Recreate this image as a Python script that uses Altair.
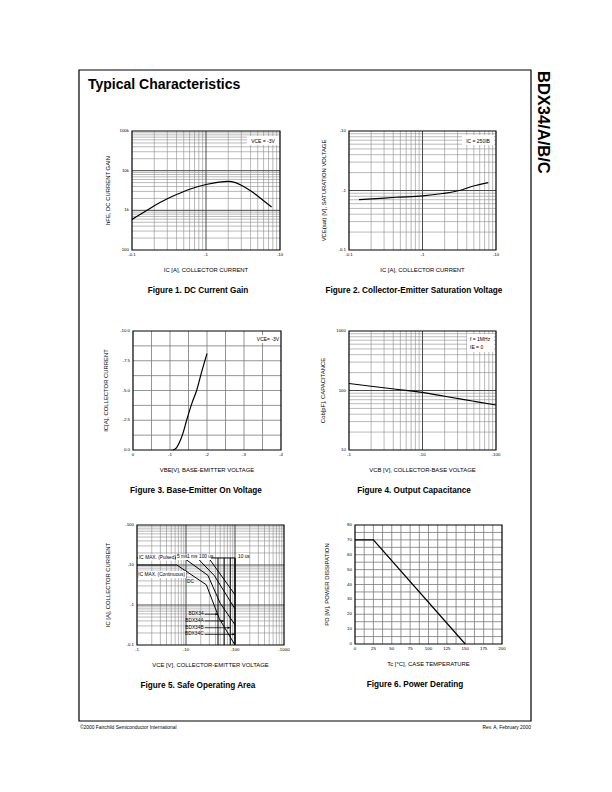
import altair as alt
import pandas as pd

FONT = "Liberation Sans"

# ---------------- data ----------------
# Figure 1: DC current gain (|Ic| in A, hFE)
f1_ic = [0.1, 0.15, 0.2, 0.3, 0.4, 0.6, 1.0, 1.5, 2.0, 2.5, 3.0, 4.0, 5.0, 6.0, 7.7]
f1_hfe = [590, 930, 1300, 1950, 2500, 3400, 4470, 5150, 5370, 5000, 4300, 3100, 2300, 1750, 1210]

# Figure 2: saturation voltage (|Ic| in A, |Vce(sat)| in V)
f2_ic = [0.137, 0.235, 0.44, 1.0, 1.88, 3.18, 4.8, 7.86]
f2_vce = [0.70, 0.73, 0.77, 0.81, 0.89, 1.0, 1.18, 1.36]

# Figure 3: base-emitter on voltage
f3_vbe = [-1.07, -1.12, -1.18, -1.25, -1.35, -1.45, -1.6, -1.72, -1.85, -2.0]
f3_ic = [0.0, -0.05, -0.2, -0.6, -1.4, -2.5, -4.0, -5.0, -6.5, -8.1]

# Figure 4: output capacitance (|Vcb| in V, Cob in pF)
f4_vcb = [1, 2, 5, 10, 20, 50, 100]
f4_cob = [131, 118, 103, 93, 80, 66, 57]

# Figure 5: safe operating area (|Vce| in V, |Ic| in A)
soa_dc_v = [1, 6.5, 26, 48, 100]
soa_dc_i = [10, 10, 3.2, 0.45, 0.1]
soa_5ms_v = [9, 28, 50, 100]
soa_5ms_i = [15, 5.5, 1.1, 0.32]
soa_1ms_v = [17, 38, 100]
soa_1ms_i = [15, 5.4, 0.8]
soa_100us_v = [29, 100]
soa_100us_i = [15, 1.8]
soa_10us_v = [1, 100, 100]
soa_10us_i = [15, 15, 0.1]
variants = ["BDX34", "BDX34A", "BDX34B", "BDX34C"]
variant_v = [45, 60, 80, 100]
variant_label_i = [0.59, 0.40, 0.27, 0.185]

# Figure 6: power derating
f6_tc = [0, 25, 150]
f6_pd = [70, 70, 0]

# tick labels
f1_xt, f1_xl = [0.1, 1, 10], ["-0.1", "-1", "-10"]
f1_yt, f1_yl = [100, 1000, 10000, 100000], ["100", "1k", "10k", "100k"]
f2_xt, f2_xl = [0.1, 1, 10], ["-0.1", "-1", "-10"]
f2_yt, f2_yl = [0.1, 1, 10], ["-0.1", "-1", "-10"]
f3_xt, f3_xl = [0, -1, -2, -3, -4], ["0", "-1", "-2", "-3", "-4"]
f3_yt, f3_yl = [0, -2.5, -5, -7.5, -10], ["0.0", "-2.5", "-5.0", "-7.5", "-10.0"]
f4_xt, f4_xl = [1, 10, 100], ["-1", "-10", "-100"]
f4_yt, f4_yl = [10, 100, 1000], ["10", "100", "1000"]
f5_xt, f5_xl = [1, 10, 100, 1000], ["-1", "-10", "-100", "-1000"]
f5_yt, f5_yl = [0.1, 1, 10, 100], ["-0.1", "-1", "-10", "-100"]
f6_xt = [0, 25, 50, 75, 100, 125, 150, 175, 200]
f6_xl = [str(v) for v in f6_xt]
f6_yt = [0, 10, 20, 30, 40, 50, 60, 70, 80]
f6_yl = [str(v) for v in f6_yt]

# ---------------- layout (pixels) ----------------
P1 = (132, 280, 131, 250)
P2 = (349, 496, 131, 250)
P3 = (133, 281, 331, 450)
P4 = (349, 496, 331, 450)
P5 = (137, 284, 525, 645)
P6 = (355, 502, 525, 644)

MINOR = "#8c8c8c"
MAJOR = "#4a4a4a"
TICK = 4.4
ATITLE = 5.9
CAP = 8.2

ONE = pd.DataFrame({"d": [0]})


def logs(lo, hi, p, axis):
    x0, x1, y0, y1 = p
    rng = [x0, x1] if axis == "x" else [y1, y0]
    return alt.Scale(type="log", domain=[lo, hi], range=rng, nice=False)


def lins(lo, hi, p, axis):
    x0, x1, y0, y1 = p
    rng = [x0, x1] if axis == "x" else [y1, y0]
    return alt.Scale(type="linear", domain=[lo, hi], range=rng, nice=False, zero=False)


def log_minor(lo_e, hi_e):
    return [k * 10.0 ** e for e in range(lo_e, hi_e) for k in range(2, 10)]


def log_major(lo_e, hi_e):
    return [10.0 ** e for e in range(lo_e + 1, hi_e)]


def vrules(vals, xs, p, color, w):
    return alt.Chart(pd.DataFrame({"g": vals})).mark_rule(color=color, strokeWidth=w).encode(
        x=alt.X("g:Q", scale=xs, axis=None), y=alt.value(p[2]), y2=alt.value(p[3]))


def hrules(vals, ys, p, color, w):
    return alt.Chart(pd.DataFrame({"g": vals})).mark_rule(color=color, strokeWidth=w).encode(
        y=alt.Y("g:Q", scale=ys, axis=None), x=alt.value(p[0]), x2=alt.value(p[1]))


def xlabs(vals, labs, xs, p):
    return alt.Chart(pd.DataFrame({"g": vals, "l": labs})).mark_text(
        fontSize=TICK, font=FONT, baseline="top", align="center").encode(
        x=alt.X("g:Q", scale=xs, axis=None), y=alt.value(p[3] + 3), text="l:N")


def ylabs(vals, labs, ys, p):
    return alt.Chart(pd.DataFrame({"g": vals, "l": labs})).mark_text(
        fontSize=TICK, font=FONT, baseline="middle", align="right").encode(
        y=alt.Y("g:Q", scale=ys, axis=None), x=alt.value(p[0] - 3), text="l:N")


def frame(p, w=1.2):
    return alt.Chart(ONE).mark_rect(fill="transparent", stroke="black", strokeWidth=w).encode(
        x=alt.value(p[0]), x2=alt.value(p[1]), y=alt.value(p[2]), y2=alt.value(p[3]))


def box(x0, x1, y0, y1):
    return alt.Chart(ONE).mark_rect(fill="white").encode(
        x=alt.value(x0), x2=alt.value(x1), y=alt.value(y0), y2=alt.value(y1))


def txt(s, x, y, size=ATITLE, weight="normal", align="center", baseline="middle", angle=0):
    return alt.Chart(pd.DataFrame({"t": [s]})).mark_text(
        fontSize=size, fontWeight=weight, align=align, baseline=baseline, angle=angle,
        font=FONT, color="black").encode(x=alt.value(x), y=alt.value(y), text="t:N")


def curve(xv, yv, xs, ys, w=1.2, interp="monotone"):
    df = pd.DataFrame({"a": xv, "b": yv, "o": list(range(len(xv)))})
    return alt.Chart(df).mark_line(color="black", strokeWidth=w, interpolate=interp).encode(
        x=alt.X("a:Q", scale=xs, axis=None), y=alt.Y("b:Q", scale=ys, axis=None), order="o:Q")


def titles(p, xt, yt, cap, capx, yoff):
    x0, x1, y0, y1 = p
    return [
        txt(yt, x0 - yoff, (y0 + y1) / 2, angle=270),
        txt(xt, (x0 + x1) / 2, y1 + 20),
        txt(cap, capx, y1 + 41, size=CAP, weight="bold"),
    ]


# ---------------- Figure 1 ----------------
xs = logs(0.1, 10, P1, "x")
ys = logs(100, 100000, P1, "y")
fig1 = alt.layer(
    vrules(log_minor(-1, 1), xs, P1, MINOR, 0.6),
    hrules(log_minor(2, 5), ys, P1, MINOR, 0.6),
    vrules(log_major(-1, 1), xs, P1, MAJOR, 1.0),
    hrules(log_major(2, 5), ys, P1, MAJOR, 1.0),
    curve(f1_ic, f1_hfe, xs, ys),
    xlabs(f1_xt, f1_xl, xs, P1),
    ylabs(f1_yt, f1_yl, ys, P1),
    box(247, 279, 136, 145),
    txt("VCE = -3V", 263, 140.5, size=5),
    frame(P1),
    *titles(P1, "IC [A], COLLECTOR CURRENT", "hFE, DC CURRENT GAIN", "Figure 1. DC Current Gain", 198, 24),
)

# ---------------- Figure 2 ----------------
xs = logs(0.1, 10, P2, "x")
ys = logs(0.1, 10, P2, "y")
fig2 = alt.layer(
    vrules(log_minor(-1, 1), xs, P2, MINOR, 0.6),
    hrules(log_minor(-1, 1), ys, P2, MINOR, 0.6),
    vrules(log_major(-1, 1), xs, P2, MAJOR, 1.0),
    hrules(log_major(-1, 1), ys, P2, MAJOR, 1.0),
    curve(f2_ic, f2_vce, xs, ys),
    xlabs(f2_xt, f2_xl, xs, P2),
    ylabs(f2_yt, f2_yl, ys, P2),
    box(462, 494, 135, 145),
    txt("IC = 250IB", 478, 140.5, size=5),
    frame(P2),
    *titles(P2, "IC [A], COLLECTOR CURRENT", "VCE(sat) [V], SATURATION VOLTAGE",
            "Figure 2. Collector-Emitter Saturation Voltage", 414, 25),
)

# ---------------- Figure 3 ----------------
xs = lins(0, -4, P3, "x")
ys = lins(0, -10, P3, "y")
fig3 = alt.layer(
    vrules([-0.5 * k for k in range(1, 8)], xs, P3, "#7a7a7a", 0.8),
    hrules([-1.25 * k for k in range(1, 8)], ys, P3, "#7a7a7a", 0.8),
    curve(f3_vbe, f3_ic, xs, ys),
    xlabs(f3_xt, f3_xl, xs, P3),
    ylabs(f3_yt, f3_yl, ys, P3),
    box(258, 278, 335, 343),
    txt("VCE= -3V", 268, 339, size=5),
    frame(P3),
    *titles(P3, "VBE[V], BASE-EMITTER VOLTAGE", "IC[A], COLLECTOR CURRENT",
            "Figure 3. Base-Emitter On Voltage", 196, 27),
)

# ---------------- Figure 4 ----------------
xs = logs(1, 100, P4, "x")
ys = logs(10, 1000, P4, "y")
fig4 = alt.layer(
    vrules(log_minor(0, 2), xs, P4, MINOR, 0.6),
    hrules(log_minor(1, 3), ys, P4, MINOR, 0.6),
    vrules(log_major(0, 2), xs, P4, MAJOR, 1.0),
    hrules(log_major(1, 3), ys, P4, MAJOR, 1.0),
    curve(f4_vcb, f4_cob, xs, ys),
    xlabs(f4_xt, f4_xl, xs, P4),
    ylabs(f4_yt, f4_yl, ys, P4),
    box(467, 494, 334, 352),
    txt("f = 1MHz", 470, 339, size=5, align="left"),
    txt("IE = 0", 470, 347, size=5, align="left"),
    frame(P4),
    *titles(P4, "VCB [V], COLLECTOR-BASE VOLTAGE", "Cob[pF], CAPACITANCE",
            "Figure 4. Output Capacitance", 414, 26),
)

# ---------------- Figure 5 ----------------
xs = logs(1, 1000, P5, "x")
ys = logs(0.1, 100, P5, "y")
soa_rows = []
for name, vv, ii in [("DC", soa_dc_v, soa_dc_i), ("5ms", soa_5ms_v, soa_5ms_i),
                     ("1ms", soa_1ms_v, soa_1ms_i), ("100us", soa_100us_v, soa_100us_i),
                     ("10us", soa_10us_v, soa_10us_i)]:
    for k, (v, i) in enumerate(zip(vv, ii)):
        soa_rows.append({"s": name, "a": v, "b": i, "o": k})
soa_df = pd.DataFrame(soa_rows)
soa_lines = alt.Chart(soa_df).mark_line(color="black", strokeWidth=1.0).encode(
    x=alt.X("a:Q", scale=xs, axis=None), y=alt.Y("b:Q", scale=ys, axis=None),
    detail="s:N", order="o:Q")
var_df = pd.DataFrame({"n": variants, "v": variant_v, "li": variant_label_i,
                       "top": [15] * 4, "bot": [0.1] * 4, "lx": [24] * 4})
var_lines = alt.Chart(var_df).mark_rule(color="black", strokeWidth=1.0).encode(
    x=alt.X("v:Q", scale=xs, axis=None), y=alt.Y("top:Q", scale=ys, axis=None),
    y2="bot:Q")
arrows = alt.Chart(var_df).mark_rule(color="black", strokeWidth=0.8).encode(
    x=alt.X("lx:Q", scale=xs, axis=None), x2="v:Q", y=alt.Y("li:Q", scale=ys, axis=None))
heads = alt.Chart(var_df).mark_point(shape="triangle-right", size=6, filled=True,
                                     color="black", opacity=1, xOffset=-1.5).encode(
    x=alt.X("v:Q", scale=xs, axis=None), y=alt.Y("li:Q", scale=ys, axis=None))
var_text = alt.Chart(var_df).mark_text(fontSize=4.8, font=FONT, align="right",
                                       baseline="middle", dx=-1).encode(
    x=alt.X("lx:Q", scale=xs, axis=None), y=alt.Y("li:Q", scale=ys, axis=None), text="n:N")
fig5 = alt.layer(
    vrules(log_minor(0, 3), xs, P5, MINOR, 0.6),
    hrules(log_minor(-1, 2), ys, P5, MINOR, 0.6),
    vrules(log_major(0, 3), xs, P5, MAJOR, 1.0),
    hrules(log_major(-1, 2), ys, P5, MAJOR, 1.0),
    soa_lines, var_lines,
    box(138, 175, 554.5, 560.5),
    txt("IC MAX. (Pulsed)", 139, 557.5, size=4.8, align="left"),
    box(176, 211, 554.5, 560),
    txt("5 ms", 177, 557, size=4.8, align="left"),
    txt("1 ms", 187, 557, size=4.8, align="left"),
    txt("100 us", 199, 557, size=4.8, align="left"),
    box(237, 249, 553, 560),
    txt("10 us", 238, 556.5, size=4.8, align="left"),
    box(139, 186, 571, 578),
    txt("IC MAX. (Continuous)", 185, 574.5, size=4.8, align="right"),
    txt("DC", 187, 581.5, size=4.8, align="left"),
    arrows, heads, var_text,
    xlabs(f5_xt, f5_xl, xs, P5),
    ylabs(f5_yt, f5_yl, ys, P5),
    frame(P5),
    *titles(P5, "VCE [V], COLLECTOR-EMITTER VOLTAGE", "IC [A], COLLECTOR CURRENT",
            "Figure 5. Safe Operating Area", 198, 29),
)

# ---------------- Figure 6 ----------------
xs = lins(0, 200, P6, "x")
ys = lins(0, 80, P6, "y")
fig6 = alt.layer(
    vrules([12.5 * k for k in range(1, 16)], xs, P6, "#7a7a7a", 0.8),
    hrules([5 * k for k in range(1, 16)], ys, P6, "#7a7a7a", 0.8),
    curve(f6_tc, f6_pd, xs, ys, interp="linear"),
    xlabs(f6_xt, f6_xl, xs, P6),
    ylabs(f6_yt, f6_yl, ys, P6),
    frame(P6),
    *titles(P6, "Tc [°C], CASE TEMPERATURE", "PD [W], POWER DISSIPATION",
            "Figure 6. Power Derating", 415, 28),
)

# ---------------- page ----------------
page = alt.layer(
    frame((79, 531, 70, 721), w=1.2),
    txt("Typical Characteristics", 88, 85, size=14, weight="bold", align="left"),
    txt("BDX34/A/B/C", 543, 71, size=16.5, weight="bold", align="left", angle=90),
    txt("©2000 Fairchild Semiconductor International", 80, 728, size=4.9, align="left"),
    txt("Rev. A, February 2000", 531, 728, size=4.9, align="right"),
)

chart = alt.layer(page, fig1, fig2, fig3, fig4, fig5, fig6).resolve_scale(
    x="independent", y="independent"
).properties(width=612, height=792, padding=0, autosize="none").configure_view(strokeWidth=0)

chart.save("out.html", embed_options={"renderer": "svg", "actions": False})
